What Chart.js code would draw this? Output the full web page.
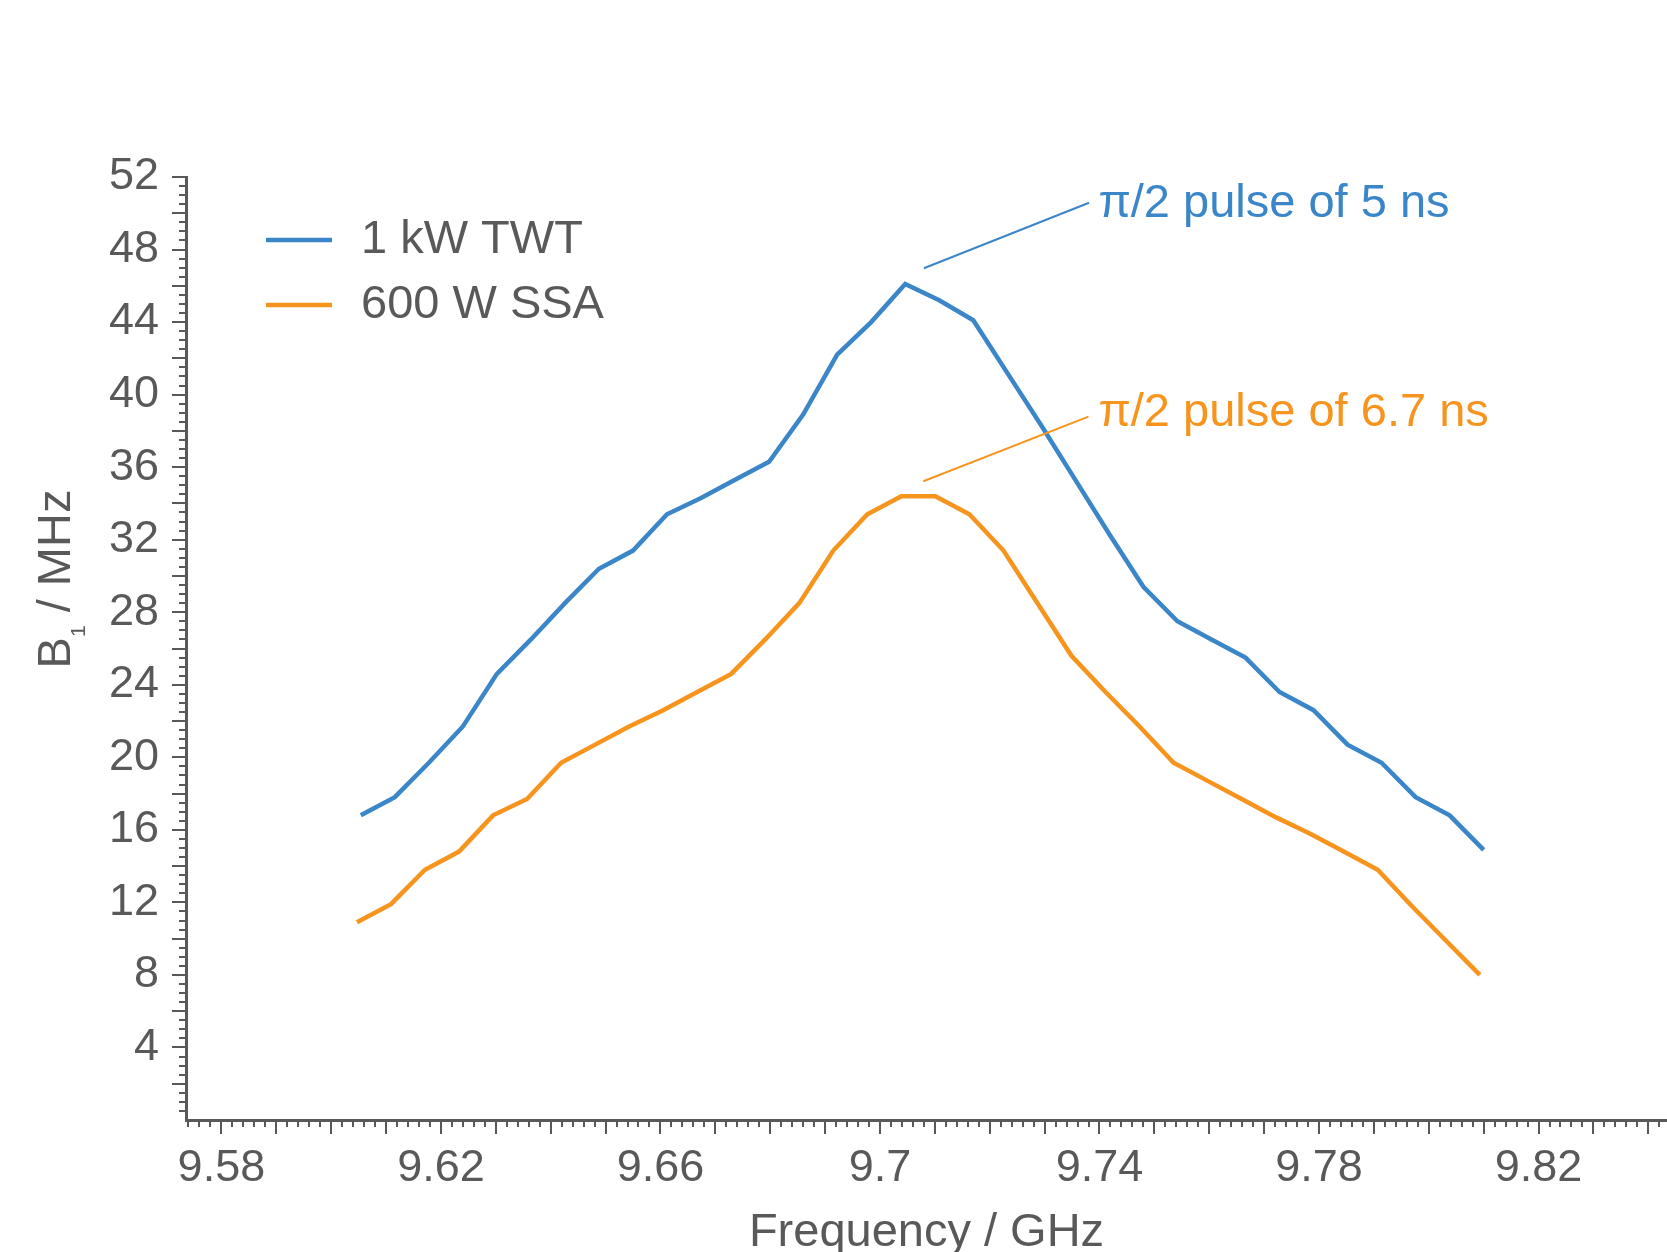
<!DOCTYPE html>
<html>
<head>
<meta charset="utf-8">
<title>B1 vs frequency</title>
<script src="https://cdn.jsdelivr.net/npm/chart.js@4.4.1/dist/chart.umd.min.js"></script>
<style>
  html, body { margin: 0; padding: 0; background: #fff; }
</style>
</head>
<body>
<canvas id="chart" width="1667" height="1252"></canvas>
<script>
// B1 field vs microwave frequency for two amplifiers

const FONT = "'Liberation Sans', Arial, sans-serif";
const GRAY = "#595959";
const BLUE = "#3a86c8";
const ORANGE = "#f7941e";

const seriesLabels = ["1 kW TWT", "600 W SSA"];

const freqTWT = [9.6054, 9.6116, 9.6178, 9.6240, 9.6302, 9.6364, 9.6426, 9.6488, 9.6550, 9.6612,
  9.6674, 9.6736, 9.6798, 9.6860, 9.6922, 9.6984, 9.7046, 9.7108, 9.7170, 9.7232,
  9.7294, 9.7356, 9.7418, 9.7480, 9.7542, 9.7604, 9.7666, 9.7728, 9.7790, 9.7852,
  9.7914, 9.7976, 9.8038, 9.8100];
const b1TWT = [16.8, 17.8, 19.7, 21.7, 24.6, 26.5, 28.5, 30.4, 31.4, 33.4,
  34.3, 35.3, 36.3, 38.9, 42.2, 44.0, 46.1, 45.2, 44.1, 41.2,
  38.3, 35.3, 32.3, 29.4, 27.5, 26.5, 25.5, 23.6, 22.6, 20.7,
  19.7, 17.8, 16.8, 14.9];

const freqSSA = [9.6047, 9.6109, 9.6171, 9.6233, 9.6295, 9.6357, 9.6419, 9.6481, 9.6543, 9.6605,
  9.6667, 9.6729, 9.6791, 9.6853, 9.6915, 9.6977, 9.7039, 9.7101, 9.7163, 9.7225,
  9.7287, 9.7349, 9.7411, 9.7473, 9.7535, 9.7597, 9.7659, 9.7721, 9.7783, 9.7845,
  9.7907, 9.7969, 9.8031, 9.8093];
const b1SSA = [10.9, 11.9, 13.8, 14.8, 16.8, 17.7, 19.7, 20.7, 21.7, 22.6,
  23.6, 24.6, 26.5, 28.5, 31.4, 33.4, 34.4, 34.4, 33.4, 31.4,
  28.5, 25.6, 23.6, 21.7, 19.7, 18.7, 17.7, 16.7, 15.8, 14.8,
  13.8, 11.8, 9.9, 8.0];

const freqTicks = ["9.58", "9.62", "9.66", "9.7", "9.74", "9.78", "9.82"];
const b1Ticks = ["4", "8", "12", "16", "20", "24", "28", "32", "36", "40", "44", "48", "52"];

// callouts: text, leader start / end and label anchor in data units
const calloutText = ["\u03c0/2 pulse of 5 ns", "\u03c0/2 pulse of 6.7 ns"];
const calloutFrom = [[9.7080, 46.97], [9.7079, 35.22]];
const calloutTo = [[9.7381, 50.58], [9.7380, 38.79]];
const calloutLabelAt = [[9.7398, 50.52], [9.7398, 39.0]];

function points(xs, ys) {
  return xs.map((x, i) => ({ x: x, y: ys[i] }));
}

// minor/major tick marks (two lengths), drawn off the scales
const axisTicks = {
  id: "axisTicks",
  afterDraw(chart) {
    const { ctx, chartArea } = chart;
    const x = chart.scales.x, y = chart.scales.y;
    ctx.save();
    ctx.strokeStyle = GRAY;
    ctx.lineWidth = 2;
    ctx.beginPath();
    for (let k = Math.ceil(x.min * 500); k <= Math.floor(x.max * 500); k++) {
      const px = Math.round(x.getPixelForValue(k / 500));
      const len = k % 5 === 0 ? 14 : 7;
      ctx.moveTo(px, chartArea.bottom);
      ctx.lineTo(px, chartArea.bottom + len);
    }
    for (let k = 1; k <= y.max * 2; k++) {
      const py = Math.round(y.getPixelForValue(k / 2));
      const len = k % 4 === 0 ? 14 : 7;
      ctx.moveTo(chartArea.left, py);
      ctx.lineTo(chartArea.left - len, py);
    }
    ctx.stroke();
    ctx.restore();
  }
};

const legendLines = {
  id: "legendLines",
  afterDraw(chart) {
    const ctx = chart.ctx;
    ctx.save();
    ctx.font = "47px " + FONT;
    ctx.textBaseline = "middle";
    ctx.fillStyle = GRAY;
    chart.data.datasets.forEach((ds, i) => {
      const yy = 240 + i * 65;
      ctx.strokeStyle = ds.borderColor;
      ctx.lineWidth = 4.5;
      ctx.beginPath();
      ctx.moveTo(266, yy);
      ctx.lineTo(332, yy);
      ctx.stroke();
      ctx.fillText(ds.label, 361, yy);
    });
    ctx.restore();
  }
};

const callouts = {
  id: "callouts",
  afterDatasetsDraw(chart) {
    const ctx = chart.ctx;
    const x = chart.scales.x, y = chart.scales.y;
    ctx.save();
    ctx.font = "47px " + FONT;
    ctx.textBaseline = "middle";
    calloutText.forEach((txt, i) => {
      const c = chart.data.datasets[i].borderColor;
      ctx.strokeStyle = c;
      ctx.lineWidth = 2;
      ctx.beginPath();
      ctx.moveTo(x.getPixelForValue(calloutFrom[i][0]), y.getPixelForValue(calloutFrom[i][1]));
      ctx.lineTo(x.getPixelForValue(calloutTo[i][0]), y.getPixelForValue(calloutTo[i][1]));
      ctx.stroke();
      ctx.fillStyle = c;
      ctx.fillText(txt, x.getPixelForValue(calloutLabelAt[i][0]), y.getPixelForValue(calloutLabelAt[i][1]));
    });
    ctx.restore();
  }
};

// y title with a real subscript: B1 / MHz
const yTitle = {
  id: "yTitle",
  afterDraw(chart) {
    const ctx = chart.ctx;
    const big = "47px " + FONT, small = "21px " + FONT;
    ctx.save();
    ctx.translate(70, 579);
    ctx.rotate(-Math.PI / 2);
    ctx.fillStyle = GRAY;
    ctx.textBaseline = "alphabetic";
    ctx.font = big;
    const wB = ctx.measureText("B").width;
    const wRest = ctx.measureText(" / MHz").width;
    ctx.font = small;
    const w1 = ctx.measureText("1").width;
    let cx = -(wB + w1 + wRest) / 2;
    ctx.font = big;
    ctx.fillText("B", cx, 0);
    cx += wB;
    ctx.font = small;
    ctx.fillText("1", cx, 15);
    cx += w1;
    ctx.font = big;
    ctx.fillText(" / MHz", cx, 0);
    ctx.restore();
  }
};

new Chart(document.getElementById("chart"), {
  type: "line",
  data: {
    datasets: [
      {
        label: seriesLabels[0],
        data: points(freqTWT, b1TWT),
        borderColor: BLUE,
        borderWidth: 4.5,
        pointRadius: 0,
        tension: 0,
        fill: false,
      },
      {
        label: seriesLabels[1],
        data: points(freqSSA, b1SSA),
        borderColor: ORANGE,
        borderWidth: 4.5,
        pointRadius: 0,
        tension: 0,
        fill: false,
      },
    ],
  },
  options: {
    responsive: false,
    animation: false,
    devicePixelRatio: 1,
    layout: { padding: { top: 177, left: 0, right: 0, bottom: 0 } },
    plugins: { legend: { display: false }, tooltip: { enabled: false } },
    scales: {
      x: {
        type: "linear",
        min: 9.57355,
        max: 9.84341,
        bounds: "data",
        grid: { display: false, drawTicks: false },
        border: { display: true, color: GRAY, width: 3 },
        ticks: {
          color: GRAY,
          font: { family: FONT, size: 45 },
          padding: 22,
          maxRotation: 0,
          autoSkip: false,
          callback: (v, i) => freqTicks[i],
        },
        afterBuildTicks: (s) => { s.ticks = freqTicks.map((t) => ({ value: parseFloat(t) })); },
        afterFit: (s) => { s.height = 132; },
        title: {
          display: true,
          text: "Frequency / GHz",
          color: GRAY,
          font: { family: FONT, size: 47, lineHeight: 0.8 },
          padding: 0,
        },
      },
      y: {
        type: "linear",
        min: 0,
        max: 52,
        bounds: "data",
        grid: { display: false, drawTicks: false },
        border: { display: true, color: GRAY, width: 3 },
        ticks: {
          color: GRAY,
          font: { family: FONT, size: 45 },
          padding: 27,
          autoSkip: false,
          callback: (v, i) => b1Ticks[i],
        },
        afterBuildTicks: (s) => { s.ticks = b1Ticks.map((t) => ({ value: parseFloat(t) })); },
        afterFit: (s) => { s.width = 186; },
      },
    },
  },
  plugins: [axisTicks, callouts, legendLines, yTitle],
});
</script>
</body>
</html>
